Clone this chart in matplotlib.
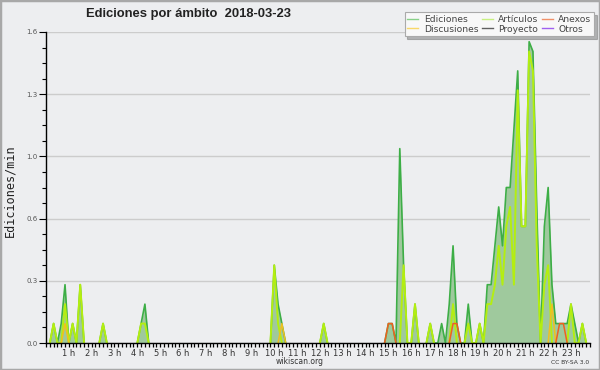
import numpy as np
import matplotlib
matplotlib.use('Agg')
import matplotlib.pyplot as plt
from matplotlib.lines import Line2D
from matplotlib.patches import Rectangle

# 10-minute bins over the day, values in edits/min
n_bins = 144

ed_bins = [2, 3, 4, 5, 6, 7, 8, 9, 10, 15, 25, 26, 60, 61, 62, 73, 90, 91, 93, 94,
           97, 101, 104, 106, 107, 108, 111, 114, 116, 117, 118, 119, 120, 121, 122,
           123, 124, 125, 126, 127, 128, 129, 131, 132, 133, 134, 135, 136, 137, 138,
           139, 141]
ed_vals = [0.1, 0.0, 0.1, 0.3, 0.0, 0.1, 0.0, 0.3, 0.0, 0.1, 0.1, 0.2, 0.4, 0.2, 0.1, 0.1,
           0.1, 0.1, 1.0, 0.4, 0.2, 0.1, 0.1, 0.2, 0.5, 0.1, 0.2, 0.1, 0.3, 0.3, 0.5,
           0.7, 0.5, 0.8, 0.8, 1.1, 1.4, 0.6, 0.6, 1.55, 1.5, 0.7, 0.6, 0.8, 0.3, 0.1,
           0.1, 0.1, 0.1, 0.2, 0.1, 0.1]

art_bins = [2, 5, 7, 9, 15, 25, 26, 60, 61, 73, 94, 97, 101, 107, 111, 114, 116, 117,
            118, 119, 120, 121, 122, 123, 124, 125, 126, 127, 128, 129, 131, 132, 138, 141]
art_vals = [0.1, 0.2, 0.1, 0.3, 0.1, 0.1, 0.1, 0.4, 0.1, 0.1, 0.4, 0.2, 0.1, 0.2, 0.1,
            0.1, 0.2, 0.2, 0.3, 0.5, 0.3, 0.6, 0.7, 0.3, 1.3, 0.6, 0.6, 1.5, 1.4, 0.5,
            0.3, 0.4, 0.2, 0.1]

dis_bins = [5, 62, 133]
dis_vals = [0.1, 0.1, 0.2]

anx_bins = [90, 91, 107, 108, 135, 136]
anx_vals = [0.1, 0.1, 0.1, 0.1, 0.1, 0.1]

hours = list(range(1, 24))
hour_labels = [f"{h} h" for h in hours]
y_ticks = [0.0, 0.32, 0.64, 0.96, 1.28, 1.6]
y_labels = ["0.0", "0.3", "0.6", "1.0", "1.3", "1.6"]

legend_names = ["Ediciones", "Discusiones", "Artículos", "Proyecto", "Anexos", "Otros"]
legend_colors = ["#88D088", "#F8D868", "#C8F080", "#606060", "#F09068", "#A060F0"]


def series(bins, vals):
    y = np.zeros(n_bins)
    y[bins] = vals
    return y


def hide_flat(y):
    # drop zero stretches so they don't paint over the x axis
    z = y == 0
    left = np.r_[True, z[:-1]]
    right = np.r_[z[1:], True]
    return np.where(z & left & right, np.nan, y)


x = np.arange(n_bins)
ed = series(ed_bins, ed_vals)
art = series(art_bins, art_vals)
dis = series(dis_bins, dis_vals)
anx = series(anx_bins, anx_vals)

bg = '#EDEEF0'
fig = plt.figure(figsize=(6, 3.7), dpi=100, facecolor=bg)
ax = fig.add_axes([46 / 600, 27 / 370, 544 / 600, 311 / 370])
ax.set_facecolor(bg)
ax.set_xlim(1.88, 141.2)
ax.set_ylim(0, 1.6)

ax.fill_between(x, ed, color='#9FC99D', lw=0, zorder=2)
ax.plot(x, hide_flat(ed), color='#3DAE46', lw=1.2, zorder=3)
ax.plot(x, hide_flat(art), color='#B4EE10', lw=1.4, zorder=4)
ax.plot(x, hide_flat(dis), color='#F0C020', lw=1.1, zorder=4)
ax.plot(x, hide_flat(anx), color='#F06020', lw=1.1, zorder=5)

for s in ['top', 'right']:
    ax.spines[s].set_visible(False)
for s in ['left', 'bottom']:
    ax.spines[s].set_color('black')
    ax.spines[s].set_linewidth(1.0)
    ax.spines[s].set_zorder(10)

ax.set_yticks(y_ticks)
ax.set_yticklabels(y_labels, fontsize=5, color='#555555')
ax.set_yticks(np.arange(0, 1.61, 0.08), minor=True)
ax.tick_params(axis='y', which='major', length=5, width=0.8, pad=1)
ax.tick_params(axis='y', which='minor', length=3, width=0.8)
ax.yaxis.grid(True, color='#CCCCCC', lw=1)
ax.set_axisbelow(True)

ax.set_xticks([6 * h for h in hours])
ax.set_xticklabels(hour_labels, fontsize=6, color='#333333')
ax.set_xticks(x, minor=True)
ax.tick_params(axis='x', which='both', length=3, width=0.9, pad=1)

fig.text(10 / 600, 1 - 191 / 370, "Ediciones/min", rotation=90, ha='center', va='center',
         fontsize=8.5, family='DejaVu Sans Mono', color='#222222')
fig.text(188 / 600, 1 - 14 / 370, "Ediciones por ámbito  2018-03-23", ha='center', va='center',
         fontsize=9.4, weight='bold', family='Liberation Sans', color='#222222')
fig.text(300 / 600, 1 - 361 / 370, "wikiscan.org", ha='center', va='center',
         fontsize=5.5, color='#333333')
fig.text(589 / 600, 1 - 363 / 370, "CC BY-SA 3.0", ha='right', va='center',
         fontsize=4.3, color='#333333')

handles = [Line2D([], [], color=c, lw=1) for c in legend_colors]
leg = fig.legend(handles, legend_names, ncol=3, loc='upper right',
                 bbox_to_anchor=(594 / 600, 1 - 12 / 370), fontsize=6.6,
                 frameon=True, fancybox=False, shadow={'color': '#777777'},
                 handlelength=1.2, handletextpad=0.6, columnspacing=0.35,
                 labelspacing=0.1, borderpad=0.3, borderaxespad=0)
leg.get_frame().set_facecolor('#F8F8F8')
leg.get_frame().set_edgecolor('#AAAAAA')
leg.get_frame().set_linewidth(0.8)
for t in leg.get_texts():
    t.set_color('#444444')

fig.patches.append(Rectangle((0, 0), 1, 1, transform=fig.transFigure, fill=False,
                             edgecolor='#A8A8A8', lw=2.5))

fig.savefig('out.png', dpi=100, facecolor=bg)
